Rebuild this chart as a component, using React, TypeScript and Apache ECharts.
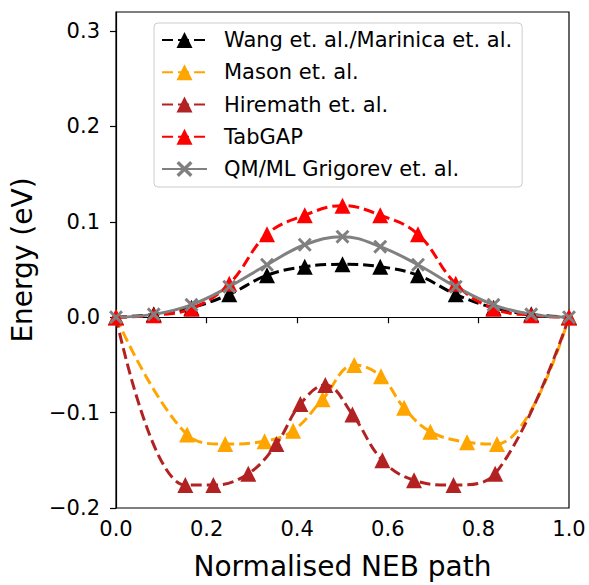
import React, { useEffect, useRef } from "react";
import * as echarts from "echarts";

// Normalised NEB path coordinates (shared for the evenly spaced images)
const evenX = [0, 1 / 12, 2 / 12, 3 / 12, 4 / 12, 5 / 12, 6 / 12, 7 / 12, 8 / 12, 9 / 12, 10 / 12, 11 / 12, 1];

const wangY = [0, 0.003, 0.01, 0.024, 0.044, 0.053, 0.0555, 0.053, 0.044, 0.024, 0.01, 0.003, 0];
const tabgapY = [0, 0.002, 0.009, 0.035, 0.087, 0.107, 0.117, 0.107, 0.087, 0.035, 0.009, 0.002, 0];
const qmmlY = [0, 0.003, 0.013, 0.032, 0.055, 0.076, 0.0845, 0.074, 0.055, 0.032, 0.013, 0.003, 0];

const masonX = [0, 0.157, 0.241, 0.328, 0.391, 0.456, 0.526, 0.585, 0.636, 0.694, 0.775, 0.841, 1];
const masonY = [0, -0.123, -0.133, -0.13, -0.119, -0.086, -0.05, -0.062, -0.095, -0.12, -0.131, -0.133, 0];

const hiremathX = [0, 0.153, 0.215, 0.292, 0.354, 0.407, 0.462, 0.522, 0.588, 0.658, 0.745, 0.837, 1];
const hiremathY = [0, -0.176, -0.176, -0.164, -0.133, -0.091, -0.071, -0.102, -0.15, -0.171, -0.176, -0.164, 0];

const FONT = "DejaVu Sans";
const CROSS = "path://M1.5,0L5,3.5L8.5,0L10,1.5L6.5,5L10,8.5L8.5,10L5,6.5L1.5,10L0,8.5L3.5,5L0,1.5Z";

const pairs = (xs: number[], ys: number[]) => xs.map((x, i) => [x, ys[i]]);

const fmt = (v: number) => {
  if (Math.abs(v) < 1e-9) return "0.0";
  return v < 0 ? "\u2212" + Math.abs(v).toFixed(1) : v.toFixed(1);
};

function dashed(name: string, color: string, xs: number[], ys: number[]) {
  return {
    name,
    type: "line",
    data: pairs(xs, ys),
    smooth: 0.4,
    symbol: "triangle",
    symbolSize: 16,
    itemStyle: { color },
    lineStyle: { color, width: 3, type: [11, 5] },
  };
}

export default function App() {
  const ref = useRef<HTMLDivElement>(null);

  useEffect(() => {
    if (!ref.current) return;
    const chart = echarts.init(ref.current, null, { renderer: "svg" });
    chart.setOption({
      animation: false,
      backgroundColor: "#ffffff",
      textStyle: { fontFamily: FONT },
      grid: {
        left: 114,
        right: 20,
        top: 12,
        bottom: 70,
        show: true,
        borderColor: "#000",
        borderWidth: 1.2,
        backgroundColor: "transparent",
      },
      legend: {
        left: 154,
        top: 23,
        orient: "vertical",
        itemWidth: 45,
        itemHeight: 20,
        itemGap: 8.25,
        padding: [5, 10, 6, 7],
        backgroundColor: "rgba(255,255,255,0.8)",
        borderColor: "#cccccc",
        borderWidth: 1,
        borderRadius: 4,
        textStyle: {
          fontFamily: FONT,
          fontSize: 21,
          color: "#000",
          lineHeight: 24,
          padding: [0, 0, 0, 12],
        },
      },
      xAxis: {
        type: "value",
        min: 0,
        max: 1,
        interval: 0.2,
        name: "Normalised NEB path",
        nameLocation: "middle",
        nameGap: 44,
        nameTextStyle: { fontFamily: FONT, fontSize: 28, color: "#000" },
        axisLine: { show: true, lineStyle: { color: "#000", width: 1.2 } },
        axisTick: { show: true, length: 6, lineStyle: { color: "#000", width: 1.2 } },
        axisLabel: { fontFamily: FONT, fontSize: 21, color: "#000", margin: 10, formatter: fmt },
        splitLine: { show: false },
      },
      yAxis: {
        type: "value",
        min: -0.2,
        max: 0.32,
        interval: 0.1,
        name: "Energy (eV)",
        nameLocation: "middle",
        nameGap: 80,
        nameTextStyle: { fontFamily: FONT, fontSize: 28, color: "#000" },
        axisLine: { show: true, lineStyle: { color: "#000", width: 1.2 } },
        axisTick: { show: true, length: 6, lineStyle: { color: "#000", width: 1.2 } },
        axisLabel: { fontFamily: FONT, fontSize: 21, color: "#000", margin: 16, formatter: fmt },
        splitLine: { show: false },
      },
      series: [
        dashed("Wang et. al./Marinica et. al.", "#000000", evenX, wangY),
        dashed("Mason et. al.", "#FFA500", masonX, masonY),
        dashed("Hiremath et. al.", "#B22222", hiremathX, hiremathY),
        dashed("TabGAP", "#FF0000", evenX, tabgapY),
        {
          name: "QM/ML Grigorev et. al.",
          type: "line",
          data: pairs(evenX, qmmlY),
          smooth: 0.4,
          symbol: CROSS,
          symbolSize: 14,
          itemStyle: { color: "#808080" },
          lineStyle: { color: "#808080", width: 3, type: "solid" },
        },
      ],
    });
    return () => chart.dispose();
  }, []);

  return (
    <div
      ref={ref}
      style={{ position: "absolute", left: 0, top: 0, width: 589, height: 585 }}
    />
  );
}
